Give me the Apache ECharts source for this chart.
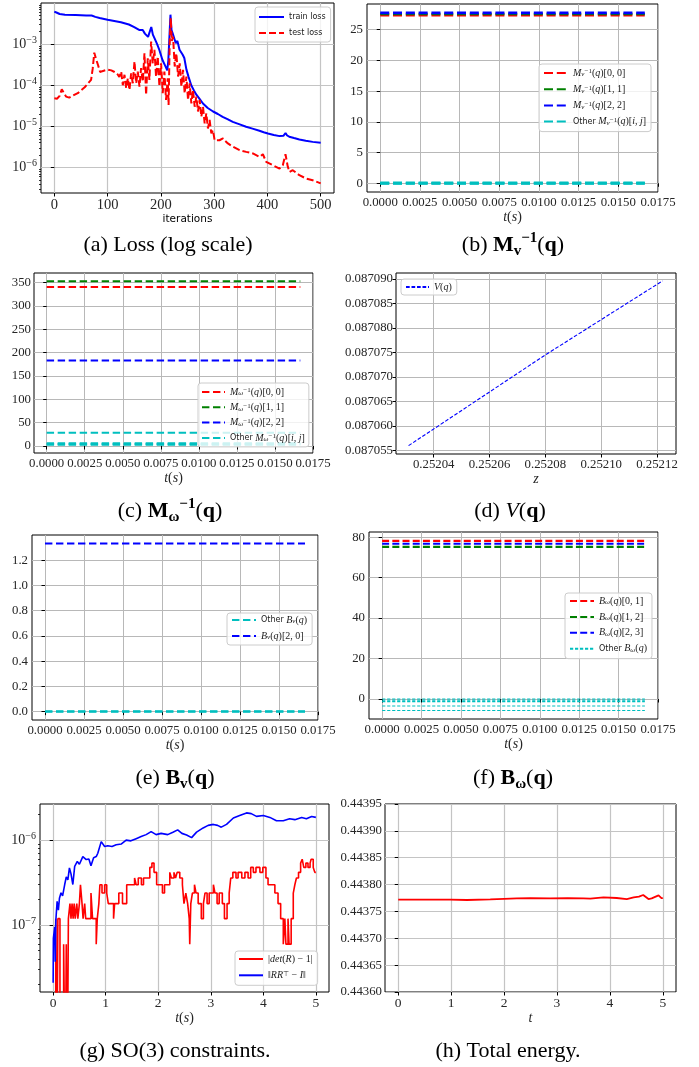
<!DOCTYPE html>
<html>
<head>
<meta charset="utf-8">
<script src="https://cdn.jsdelivr.net/npm/echarts@6.0.0/dist/echarts.min.js"></script>
<style>
html,body{margin:0;padding:0;background:#fff;}
#chart{width:699px;height:1067px;}
</style>
</head>
<body>
<div id="chart"></div>
<script>
// ================= DATA =================
// (a) Loss (log scale)
const trainLoss = [[0,6.2e-3],[5,5.8e-3],[10,5.4e-3],[20,5.2e-3],[40,5.1e-3],[60,5.0e-3],[70,4.95e-3],[73,5.2e-3],[77,4.6e-3],[85,4.3e-3],[100,3.9e-3],[115,3.6e-3],[125,3.4e-3],[140,3.0e-3],[150,2.6e-3],[160,2.2e-3],[163,2.0e-3],[166,2.2e-3],[170,1.8e-3],[173,2.0e-3],[176,1.5e-3],[179,1.5e-3],[182,2.6e-3],[185,1.7e-3],[188,1.4e-3],[193,1.0e-3],[197,7.3e-4],[203,4.1e-4],[208,3.0e-4],[212,2.3e-4],[214,4.0e-4],[218,5.2e-3],[220,2.2e-3],[222,1.85e-3],[225,1.9e-3],[228,1.05e-3],[231,1.2e-3],[235,7.3e-4],[238,8e-4],[241,5.5e-4],[244,4.6e-4],[248,2.4e-4],[252,1.6e-4],[257,1.0e-4],[262,7.5e-5],[267,5.8e-5],[273,4.6e-5],[279,3.6e-5],[288,2.8e-5],[298,2.3e-5],[307,2.0e-5],[316,1.7e-5],[325,1.5e-5],[335,1.29e-5],[348,1.12e-5],[360,9.8e-6],[372,8.8e-6],[385,7.8e-6],[393,7.2e-6],[401,6.7e-6],[412,6.2e-6],[423,5.8e-6],[430,5.9e-6],[434,6.9e-6],[437,6.0e-6],[441,5.6e-6],[450,5.2e-6],[460,4.8e-6],[472,4.5e-6],[485,4.2e-6],[500,4.0e-6]];
const testLoss = [[0,4.8e-5],[5,4.7e-5],[10,5.5e-5],[14,8.0e-5],[18,6.5e-5],[22,5.3e-5],[28,5.0e-5],[35,5.6e-5],[44,6.4e-5],[50,7.5e-5],[57,8.9e-5],[63,1.1e-4],[69,1.35e-4],[72,2.5e-4],[75,6.2e-4],[78,4.5e-4],[82,3.1e-4],[86,2.1e-4],[90,2.2e-4],[100,2.4e-4],[107,2.3e-4],[113,2.1e-4],[118,1.9e-4],[122,1.6e-4],[125.5,2.15e-4],[128.6,1.0e-4],[131.7,1.8e-4],[134.9,8.5e-5],[138,1.48e-4],[141.1,7.7e-5],[144.2,1.95e-4],[147.3,1.12e-4],[150.5,3.8e-4],[153.6,1.12e-4],[156.7,2.15e-4],[159.8,9.3e-5],[162.9,2.6e-4],[166.1,1.23e-4],[169.2,6.0e-4],[172.3,5.8e-5],[175.4,4.5e-4],[178.5,1.35e-4],[181.7,1.16e-3],[184.8,3.4e-4],[187.9,7.3e-4],[191,1.6e-4],[194.1,5.0e-4],[197.3,9.3e-5],[200.4,3.4e-4],[203.5,6.4e-5],[206.6,2.15e-4],[209.7,4.4e-5],[212.9,1.48e-4],[214.5,3.3e-5],[216.5,1.0e-3],[218.5,4.3e-3],[220.5,1.2e-3],[222.9,1.53e-3],[226,2.85e-4],[229.1,6.0e-4],[232.3,1.63e-4],[235.4,3.4e-4],[238.5,9.3e-5],[241.6,2.36e-4],[244.7,6.4e-5],[247.9,1.63e-4],[251,4.4e-5],[254.1,1.12e-4],[257.2,3.6e-5],[260.3,7.7e-5],[263.5,3.0e-5],[266.6,5.3e-5],[269.7,2.3e-5],[272.8,4.4e-5],[275.9,1.72e-5],[279.1,3.0e-5],[282.2,1.18e-5],[285.3,2.07e-5],[288.4,8.9e-6],[291.5,1.43e-5],[294.7,6.8e-6],[297.8,8.1e-6],[300.9,4.6e-6],[304,4.8e-6],[310,4.6e-6],[316.5,5.1e-6],[321,4.4e-6],[325.8,3.85e-6],[335.2,3.2e-6],[347.7,2.64e-6],[360.3,2.4e-6],[372.7,2.2e-6],[385.2,1.82e-6],[391.5,2.1e-6],[397.7,1.37e-6],[410.2,1.14e-6],[422.7,9.4e-7],[428.9,1.14e-6],[433.9,2.1e-6],[438.3,1.04e-6],[441.4,7.8e-7],[447.6,8.6e-7],[460,6.5e-7],[472.6,5.4e-7],[485,4.9e-7],[500,4.1e-7]];
const lossTicksX = [0, 100, 200, 300, 400, 500];
const lossTicksY = [1e-6, 1e-5, 1e-4, 1e-3];

// shared time span / ticks for (b),(c),(e),(f)
const tSpan = [0, 1 / 60];
const tTicks = [0, 0.0025, 0.005, 0.0075, 0.01, 0.0125, 0.015, 0.0175];

// (b) M_v^{-1}(q)
const mvDiag = [27.38, 27.55, 27.75];      // [0,0], [1,1], [2,2]
const mvOther = [0.08, 0.0, -0.03];
const mvTicksY = [0, 5, 10, 15, 20, 25];

// (c) M_w^{-1}(q)
const mwDiag = [340.5, 352.5, 183];        // [0,0], [1,1], [2,2]
const mwOther = [28.5, 6, 4, 2.5];
const mwTicksY = [0, 50, 100, 150, 200, 250, 300, 350];

// (d) V(q)
const potZ = [0.252031, 0.25208, 0.252122];
const potV = [0.0870560, 0.0870745, 0.0870896];
const potTicksX = [0.25204, 0.25206, 0.25208, 0.25210, 0.25212];
const potTicksY = [0.087055, 0.08706, 0.087065, 0.08707, 0.087075, 0.08708, 0.087085, 0.08709];

// (e) B_v(q)
const bvMain = 1.333;                       // [2,0]
const bvOther = [0.0, 0.004];
const bvTicksY = [0, 0.2, 0.4, 0.6, 0.8, 1.0, 1.2];

// (f) B_w(q)
const bwDiag = [78.2, 75.2, 76.8];          // [0,1], [1,2], [2,3]
const bwOther = [0, -0.6, -1.3, -3.5, -5.7];
const bwTicksY = [0, 20, 40, 60, 80];

// (g) SO(3) constraints
const detErr = [[0,0],[0.05,1.19e-7],[0.07,0],[0.09,1.19e-7],[0.13,0],[0.2,5.96e-8],[0.23,0],[0.25,5.96e-8],[0.27,0],[0.29,1.19e-7],[0.32,1.79e-7],[0.34,1.19e-7],[0.36,1.79e-7],[0.38,1.19e-7],[0.40,1.79e-7],[0.42,1.19e-7],[0.45,1.79e-7],[0.47,1.19e-7],[0.5,1.79e-7],[0.52,2.98e-7],[0.55,1.79e-7],[0.57,1.19e-7],[0.6,1.79e-7],[0.62,1.19e-7],[0.72,2.38e-7],[0.75,1.19e-7],[0.82,5.96e-8],[0.84,1.19e-7],[0.87,1.79e-7],[0.89,2.98e-7],[0.93,2.38e-7],[0.98,2.98e-7],[1.02,2.38e-7],[1.05,1.79e-7],[1.15,1.19e-7],[1.17,1.79e-7],[1.25,2.38e-7],[1.32,1.79e-7],[1.4,2.98e-7],[1.55,3.58e-7],[1.58,2.98e-7],[1.62,3.58e-7],[1.68,2.98e-7],[1.72,3.58e-7],[1.84,4.77e-7],[1.88,5.36e-7],[1.92,4.17e-7],[1.97,2.98e-7],[2.08,2.38e-7],[2.12,2.98e-7],[2.22,4.17e-7],[2.25,3.58e-7],[2.3,4.17e-7],[2.33,3.58e-7],[2.36,4.17e-7],[2.41,3.58e-7],[2.46,2.98e-7],[2.49,1.79e-7],[2.525,2.38e-7],[2.56,1.79e-7],[2.59,1.19e-7],[2.6,5.96e-8],[2.62,1.79e-7],[2.65,2.38e-7],[2.69,2.98e-7],[2.72,2.38e-7],[2.76,1.79e-7],[2.82,1.19e-7],[2.86,1.79e-7],[2.89,2.38e-7],[2.93,1.79e-7],[2.97,2.38e-7],[3.05,2.98e-7],[3.08,2.38e-7],[3.12,1.79e-7],[3.16,2.38e-7],[3.22,1.79e-7],[3.26,1.19e-7],[3.31,1.79e-7],[3.35,2.38e-7],[3.38,3.58e-7],[3.42,4.17e-7],[3.48,3.58e-7],[3.52,4.17e-7],[3.59,3.58e-7],[3.65,4.17e-7],[3.71,3.58e-7],[3.76,4.77e-7],[3.81,4.17e-7],[3.86,4.77e-7],[3.935,4.17e-7],[3.99,4.77e-7],[4.05,3.58e-7],[4.09,2.98e-7],[4.22,2.38e-7],[4.28,1.79e-7],[4.33,1.19e-7],[4.38,5.96e-8],[4.41,1.19e-7],[4.43,5.96e-8],[4.47,1.19e-7],[4.49,5.96e-8],[4.53,1.19e-7],[4.57,2.38e-7],[4.6,2.98e-7],[4.63,3.58e-7],[4.67,4.17e-7],[4.71,5.36e-7],[4.74,5.96e-7],[4.77,4.77e-7],[4.81,5.36e-7],[4.85,4.77e-7],[4.89,5.36e-7],[4.91,5.96e-7],[4.95,4.77e-7],[4.98,4.17e-7],[5.0,4.17e-7]];
const orthErr = [[0,2.1e-8],[0.005,7e-8],[0.03,9.5e-8],[0.04,3.7e-8],[0.05,1.1e-7],[0.076,1.9e-7],[0.1,1.5e-7],[0.12,2.07e-7],[0.15,2.4e-7],[0.18,2.2e-7],[0.22,3.0e-7],[0.25,3.7e-7],[0.28,3.4e-7],[0.31,4.7e-7],[0.34,4.0e-7],[0.375,3.0e-7],[0.41,4.9e-7],[0.46,5.6e-7],[0.5,5.2e-7],[0.565,6.4e-7],[0.63,5.9e-7],[0.68,6.0e-7],[0.72,5.0e-7],[0.77,6.2e-7],[0.82,6.4e-7],[0.85,7.0e-7],[0.915,9.6e-7],[0.98,8.4e-7],[1.04,8.6e-7],[1.12,8.4e-7],[1.2,8.8e-7],[1.3,9.0e-7],[1.39,1.0e-6],[1.48,9.8e-7],[1.58,1.04e-6],[1.675,1.1e-6],[1.77,1.16e-6],[1.865,1.26e-6],[1.96,1.16e-6],[2.056,1.2e-6],[2.18,1.16e-6],[2.28,1.24e-6],[2.37,1.32e-6],[2.45,1.2e-6],[2.54,1.15e-6],[2.635,1.07e-6],[2.73,1.24e-6],[2.855,1.39e-6],[2.95,1.49e-6],[3.05,1.53e-6],[3.13,1.49e-6],[3.2,1.42e-6],[3.3,1.53e-6],[3.43,1.82e-6],[3.55,1.95e-6],[3.68,2.09e-6],[3.77,2.05e-6],[3.87,1.9e-6],[4.0,1.95e-6],[4.125,1.85e-6],[4.25,1.69e-6],[4.38,1.69e-6],[4.5,1.78e-6],[4.6,1.74e-6],[4.73,1.85e-6],[4.82,1.78e-6],[4.92,1.9e-6],[5.0,1.85e-6]];
const soTicksX = [0, 1, 2, 3, 4, 5];
const soTicksY = [1e-7, 1e-6];

// (h) Total energy
const energy = [[0,0.443772],[0.5,0.443772],[0.98,0.443772],[1.3,0.4437713],[1.74,0.4437725],[2.0,0.4437735],[2.24,0.4437744],[2.5,0.4437748],[2.87,0.4437744],[3.2,0.4437748],[3.5,0.4437744],[3.63,0.4437738],[3.88,0.4437763],[4.13,0.443775],[4.32,0.4437731],[4.45,0.4437763],[4.55,0.4437775],[4.63,0.4437806],[4.73,0.4437731],[4.79,0.4437744],[4.92,0.44378],[4.98,0.4437744],[5.0,0.4437756]];
const enTicksX = [0, 1, 2, 3, 4, 5];
const enTicksY = [0.4436, 0.44365, 0.4437, 0.44375, 0.4438, 0.44385, 0.4439, 0.44395];

// ================= STYLE / LAYOUT =================
const SERIF = 'Liberation Serif';
const SANS = 'DejaVu Sans';
const RED = '#ff0000', GREEN = '#008000', BLUE = '#0000ff', CYAN = '#00bfbf';

const grids = [
  {left: 41, top: 3, width: 293, height: 190},
  {left: 367, top: 4, width: 291, height: 188},
  {left: 34, top: 273, width: 279, height: 180},
  {left: 396, top: 273, width: 280, height: 181},
  {left: 32, top: 535, width: 286, height: 185},
  {left: 369, top: 532, width: 289, height: 187},
  {left: 40, top: 804, width: 289, height: 188},
  {left: 385, top: 804, width: 291, height: 188}
].map(g => Object.assign(g, {show: true, borderColor: '#000', borderWidth: 1, backgroundColor: 'transparent', containLabel: false, outerBoundsMode: 'none'}));

const LOG_RICH = {
  b: {fontFamily: SERIF, fontSize: 14, lineHeight: 18, color: '#262626'},
  s: {fontFamily: SERIF, fontSize: 10, lineHeight: 9, verticalAlign: 'top', color: '#262626'}
};
const logFmt = v => '{b|10}{s|−' + Math.round(-Math.log10(v)) + '}';

const NAME_RICH = {
  i: {fontFamily: SERIF, fontStyle: 'italic', fontSize: 14, color: '#262626'},
  r: {fontFamily: SERIF, fontSize: 14, color: '#262626'}
};
const tName = '{i|t}{r|(}{i|s}{r|)}';

function axis(gi, cfg) {
  const ax = {
    type: cfg.type || 'value', gridIndex: gi, min: cfg.min, max: cfg.max,
    axisLine: {show: false},
    axisTick: {show: true, inside: false, length: 3.5, customValues: cfg.ticks, lineStyle: {color: '#000', width: 1}},
    axisLabel: {show: true, customValues: cfg.ticks, formatter: cfg.fmt, margin: cfg.margin == null ? 4.5 : cfg.margin,
      color: '#262626', fontFamily: SERIF, fontSize: cfg.fs || 12.8, rich: cfg.rich},
    splitLine: {show: true, lineStyle: {color: cfg.gc || '#b8b8b8', width: cfg.gw || 1}},
    silent: true
  };
  if (cfg.name) {
    ax.name = cfg.name; ax.nameLocation = 'middle'; ax.nameGap = cfg.nameGap;
    ax.nameTextStyle = cfg.nameStyle || {rich: NAME_RICH};
  }
  if (ax.type === 'log') ax.logBase = 10;
  return ax;
}
function minorAxis(gi, min, max, vals) {
  return {type: 'log', logBase: 10, gridIndex: gi, min, max, position: 'left', offset: 0,
    axisLine: {show: false}, axisLabel: {show: false}, splitLine: {show: false},
    axisTick: {show: true, inside: false, length: 2, customValues: vals, lineStyle: {color: '#000', width: 0.8}}, silent: true};
}
function minorVals(min, max) {
  const out = [];
  for (let k = -9; k <= 0; k++) for (let m = 2; m <= 9; m++) { const v = m * Math.pow(10, k); if (v > min && v < max) out.push(v); }
  return out;
}

const fmtInt = v => String(Math.round(v));
const fmtT = v => v.toFixed(4);

const A_MIN = 2.4e-7, A_MAX = 1e-2, G_MIN = 1.63e-8, G_MAX = 2.66e-6;

const xAxes = [
  axis(0, {min: -25, max: 525, ticks: lossTicksX, fmt: fmtInt, fs: 14.5, margin: 4.5, gc: '#c4c4c4', gw: 1.2,
    name: 'iterations', nameGap: 18, nameStyle: {fontFamily: SANS, fontSize: 10.5, color: '#000'}}),
  axis(1, {min: -0.000833, max: 0.0175, ticks: tTicks, fmt: fmtT, name: tName, nameGap: 17}),
  axis(2, {min: -0.000833, max: 0.0175, ticks: tTicks, fmt: fmtT, name: tName, nameGap: 16}),
  axis(3, {min: 0.2520265, max: 0.2521268, ticks: potTicksX, fmt: v => v.toFixed(5), name: '{i|z}', nameGap: 17}),
  axis(4, {min: -0.000833, max: 0.0175, ticks: tTicks, fmt: fmtT, name: tName, nameGap: 16}),
  axis(5, {min: -0.000833, max: 0.0175, ticks: tTicks, fmt: fmtT, name: tName, nameGap: 17}),
  axis(6, {min: -0.25, max: 5.25, ticks: soTicksX, fmt: fmtInt, fs: 13.5, gc: '#c4c4c4', gw: 1.2, name: tName, nameGap: 16}),
  axis(7, {min: -0.25, max: 5.25, ticks: enTicksX, fmt: fmtInt, fs: 13.5, gc: '#c4c4c4', gw: 1.2, name: '{i|t}', nameGap: 17})
];
const yAxes = [
  axis(0, {type: 'log', min: A_MIN, max: A_MAX, ticks: lossTicksY, fmt: logFmt, rich: LOG_RICH, margin: 4, gc: '#c4c4c4', gw: 1.2}),
  axis(1, {min: -1.42, max: 29.19, ticks: mvTicksY, fmt: fmtInt, margin: 4}),
  axis(2, {min: -15, max: 370.2, ticks: mwTicksY, fmt: fmtInt, margin: 3}),
  axis(3, {min: 0.0870543, max: 0.0870912, ticks: potTicksY, fmt: v => v.toFixed(6), margin: 3}),
  axis(4, {min: -0.066, max: 1.4, ticks: bvTicksY, fmt: v => v.toFixed(1), margin: 4}),
  axis(5, {min: -9.9, max: 82.6, ticks: bwTicksY, fmt: fmtInt, margin: 4}),
  axis(6, {type: 'log', min: G_MIN, max: G_MAX, ticks: soTicksY, fmt: logFmt, rich: LOG_RICH, margin: 4, gc: '#c4c4c4', gw: 1.2}),
  axis(7, {min: 0.4436, max: 0.44395, ticks: enTicksY, fmt: v => v.toFixed(5), margin: 3, gc: '#c4c4c4', gw: 1.2}),
  minorAxis(0, A_MIN, A_MAX, minorVals(A_MIN, A_MAX)),
  minorAxis(6, G_MIN, G_MAX, minorVals(G_MIN, G_MAX))
];
yAxes.forEach((a, i) => { if (i < 8) { a.position = 'left'; a.offset = 0; } });

// ---------- series ----------
const series = [];
function line(name, gi, data, color, width, dash, extra) {
  series.push(Object.assign({type: 'line', name, xAxisIndex: gi, yAxisIndex: gi, data, symbol: 'none', showSymbol: false,
    lineStyle: {color, width, type: dash || 'solid'}, itemStyle: {color}, silent: true, animation: false, clip: true}, extra || {}));
}
const hdata = y => tSpan.map(t => [t, y]);

// (a)
line('train', 0, trainLoss, BLUE, 2);
line('test', 0, testLoss, RED, 2, [7, 3]);
// (b)
const mvNames = ['mv00', 'mv11', 'mv22'];
const diagColors = [RED, GREEN, BLUE];
mvDiag.forEach((v, i) => line(mvNames[i], 1, hdata(v), diagColors[i], 2.6, [9, 3.8]));
mvOther.forEach(v => line('mvO', 1, hdata(v), CYAN, 2.6, [9, 3.8]));
// (c)
const mwNames = ['mw00', 'mw11', 'mw22'];
mwDiag.forEach((v, i) => line(mwNames[i], 2, hdata(v), diagColors[i], 2, [7.4, 3.6]));
mwOther.forEach(v => line('mwO', 2, hdata(v), CYAN, 2, [7.4, 3.6]));
// (d)
line('pot', 3, potZ.map((z, i) => [z, potV[i]]), BLUE, 1.1, [3.7, 1.8]);
// (e)
bvOther.forEach(v => line('bvO', 4, hdata(v), CYAN, 2, [7.4, 3.6]));
line('bv20', 4, hdata(bvMain), BLUE, 2, [7.4, 3.6]);
// (f)
const bwNames = ['bw01', 'bw12', 'bw23'];
bwDiag.forEach((v, i) => line(bwNames[i], 5, hdata(v), diagColors[i], 2.2, [7, 3.2]));
bwOther.forEach(v => line('bwO', 5, hdata(v), CYAN, 1.1, [3.2, 1.8]));
// (g)
line('det', 6, detErr.map(p => [p[0], p[1] > 0 ? p[1] : 1e-9]), RED, 1.6, 'solid', {step: 'end'});
line('orth', 6, orthErr, BLUE, 1.6);
// (h)
line('energy', 7, energy, RED, 1.8);

// ---------- legends ----------
const LEG_RICH = {
  it: {fontFamily: SERIF, fontStyle: 'italic', fontSize: 10, lineHeight: 10, color: '#1a1a1a'},
  rm: {fontFamily: SERIF, fontSize: 10, lineHeight: 10, color: '#1a1a1a'},
  sb: {fontFamily: SERIF, fontStyle: 'italic', fontSize: 7, lineHeight: 5, verticalAlign: 'bottom', color: '#1a1a1a'},
  sp: {fontFamily: SERIF, fontSize: 7, lineHeight: 5, verticalAlign: 'top', color: '#1a1a1a'},
  sa: {fontFamily: SANS, fontSize: 8, lineHeight: 10, color: '#1a1a1a'}
};
const Mv = '{it|M}{sb|v}{sp|−1}{rm|(}{it|q}{rm|)}';
const Mw = '{it|M}{sb|ω}{sp|−1}{rm|(}{it|q}{rm|)}';
const Bv = '{it|B}{sb|v}{rm|(}{it|q}{rm|)}';
const Bw = '{it|B}{sb|ω}{rm|(}{it|q}{rm|)}';
const IJ = '{rm|[}{it|i}{rm|, }{it|j}{rm|]}';
const LEGEND_TEXT = {
  train: '{sa|train loss}', test: '{sa|test loss}',
  mv00: Mv + '{rm|[0, 0]}', mv11: Mv + '{rm|[1, 1]}', mv22: Mv + '{rm|[2, 2]}', mvO: '{sa|Other }' + Mv + IJ,
  mw00: Mw + '{rm|[0, 0]}', mw11: Mw + '{rm|[1, 1]}', mw22: Mw + '{rm|[2, 2]}', mwO: '{sa|Other }' + Mw + IJ,
  pot: '{it|V}{rm|(}{it|q}{rm|)}',
  bvO: '{sa|Other }' + Bv, bv20: Bv + '{rm|[2, 0]}',
  bw01: Bw + '{rm|[0, 1]}', bw12: Bw + '{rm|[1, 2]}', bw23: Bw + '{rm|[2, 3]}', bwO: '{sa|Other }' + Bw,
  det: '{rm||}{it|det}{rm|(}{it|R}{rm|) − 1|}',
  orth: '{rm|‖}{it|RR}{sp|⊤}{rm| − }{it|I}{rm|‖}'
};
function legend(names, left, top, pad, itemWidth, gap) {
  return {
    data: names, orient: 'vertical', left, top, padding: pad, itemWidth, itemHeight: 10, itemGap: gap,
    backgroundColor: 'rgba(255,255,255,0.8)', borderColor: '#cccccc', borderWidth: 1, borderRadius: 3,
    selectedMode: false, formatter: n => LEGEND_TEXT[n],
    textStyle: {rich: LEG_RICH, lineHeight: 10, fontSize: 10},
    itemStyle: {opacity: 0}
  };
}
const legends = [
  legend(['train', 'test'], 255, 7, [5, 5, 4, 3], 25, 6),
  legend(['mv00', 'mv11', 'mv22', 'mvO'], 539, 64, [4, 5, 5, 4], 24, 6.2),
  legend(['mw00', 'mw11', 'mw22', 'mwO'], 198, 383, [4, 4, 4, 3], 23, 5.3),
  legend(['pot'], 401, 279, [3, 5, 3, 4], 23, 6),
  legend(['bvO', 'bv20'], 227, 613, [2, 5, 4, 4], 24, 6),
  legend(['bw01', 'bw12', 'bw23', 'bwO'], 565, 593, [3, 5, 5, 4], 24, 5.9),
  legend(['det', 'orth'], 235, 951, [3, 5, 5, 3], 24, 6.3)
];

// ---------- captions ----------
const CAP_RICH = {
  n: {fontFamily: SERIF, fontSize: 22, lineHeight: 28, color: '#000'},
  b: {fontFamily: SERIF, fontSize: 22, fontWeight: 'bold', lineHeight: 28, color: '#000'},
  i: {fontFamily: SERIF, fontSize: 22, fontStyle: 'italic', lineHeight: 28, color: '#000'},
  sb: {fontFamily: SERIF, fontSize: 15, fontWeight: 'bold', lineHeight: 13, verticalAlign: 'bottom', color: '#000'},
  sp: {fontFamily: SERIF, fontSize: 15, fontWeight: 'bold', lineHeight: 13, verticalAlign: 'top', color: '#000'}
};
const captionText = [
  '{n|(a) Loss (log scale)}',
  '{n|(b) }{b|M}{sb|v}{sp|−1}{n|(}{b|q}{n|)}',
  '{n|(c) }{b|M}{sb|ω}{sp|−1}{n|(}{b|q}{n|)}',
  '{n|(d) }{i|V}{n|(}{b|q}{n|)}',
  '{n|(e) }{b|B}{sb|v}{n|(}{b|q}{n|)}',
  '{n|(f) }{b|B}{sb|ω}{n|(}{b|q}{n|)}',
  '{n|(g) SO(3) constraints.}',
  '{n|(h) Total energy.}'
];
const captionPos = [[168, 245], [513, 245], [170, 511], [510, 511], [175, 778], [513, 778], [175, 1051], [508, 1051]];
const graphic = captionText.map((t, i) => ({
  type: 'text', x: captionPos[i][0], y: captionPos[i][1], silent: true,
  style: {text: t, rich: CAP_RICH, align: 'center', verticalAlign: 'middle', fill: '#000'}
}));

const chart = echarts.init(document.getElementById('chart'), null, {renderer: 'canvas'});
chart.setOption({
  animation: false,
  backgroundColor: '#ffffff',
  grid: grids,
  xAxis: xAxes,
  yAxis: yAxes,
  legend: legends,
  series,
  graphic
});
</script>
</body>
</html>
